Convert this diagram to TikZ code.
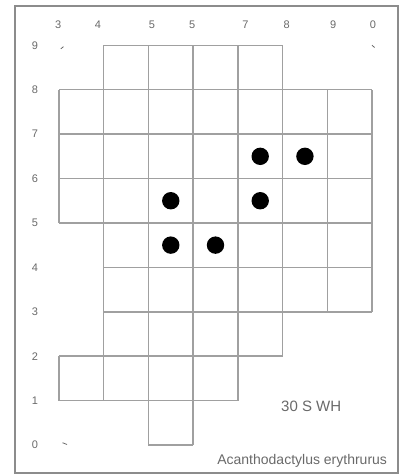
\documentclass[tikz,border=0pt]{standalone}
\usepackage{fontspec}
\setmainfont{Liberation Sans}
\usetikzlibrary{positioning}

\definecolor{gridgray}{RGB}{160,160,160}
\definecolor{labgray}{RGB}{105,105,105}
\definecolor{framegray}{RGB}{140,140,140}

\tikzset{
	squares/.style={draw=gridgray, line width=1.5pt, xstep=44.7pt, ystep=44.4pt},
	record dot/.style={fill=black},
	axislab/.style={text=labgray, font=\fontsize{11}{12}\selectfont, inner sep=0pt},
	note/.style={text=labgray, inner sep=0pt},
	corner mark/.style={draw=labgray, line width=0.8pt}
}

\begin{document}
\begin{tikzpicture}[x=44.7pt, y=44.4pt]
		\useasboundingbox (-1.32,-0.676) rectangle (7.696,10.02);
		% frame
		\draw[framegray, line width=2pt] (-0.984,-0.631) rectangle (7.584,9.887);
		% squares of the grid
		\draw[squares] (1,8) grid (5,9);
		\draw[squares] (0,5) grid (7,8);
		\draw[squares] (1,3) grid (7,5);
		\draw[squares] (1,2) grid (5,3);
		\draw[squares] (0,1) grid (4,2);
		\draw[squares] (2,0) grid (3,1);
		% records
		\foreach \cx/\cy in {4.5/6.5, 5.5/6.5, 2.5/5.5, 4.5/5.5, 2.5/4.5, 3.5/4.5}
			\fill[record dot] (\cx,\cy) circle[radius=8.7pt];
		% axis labels
		\foreach \r in {0,...,9}
			\node[axislab] (row\r) at (-0.54,\r) {\r};
		\foreach \cx/\t [count=\i] in {-0.02/3, 0.87/4, 2.08/5, 2.98/5, 4.17/7, 5.09/8, 6.13/9, 7.02/0}
			\node[axislab] (col\i) at (\cx,9.46) {\t};
		% corner marks
		\coordinate (mark-a) at (0.04,8.92);
		\coordinate (mark-b) at (7.0,9.0);
		\coordinate (mark-c) at (0.08,0.05);
		\draw[corner mark] (mark-a) -- ++(0.06,0.05);
		\draw[corner mark] (mark-b) -- ++(0.06,-0.05);
		\draw[corner mark] (mark-c) -- ++(0.1,-0.04);
		% texts
		\node[note, font=\fontsize{15}{17}\selectfont] (square) at (5.64,0.88) {30 S WH};
		\node[note, font=\fontsize{14}{16}\selectfont, anchor=east] (species) at (7.34,-0.35) {Acanthodactylus erythrurus};
\end{tikzpicture}
\end{document}
